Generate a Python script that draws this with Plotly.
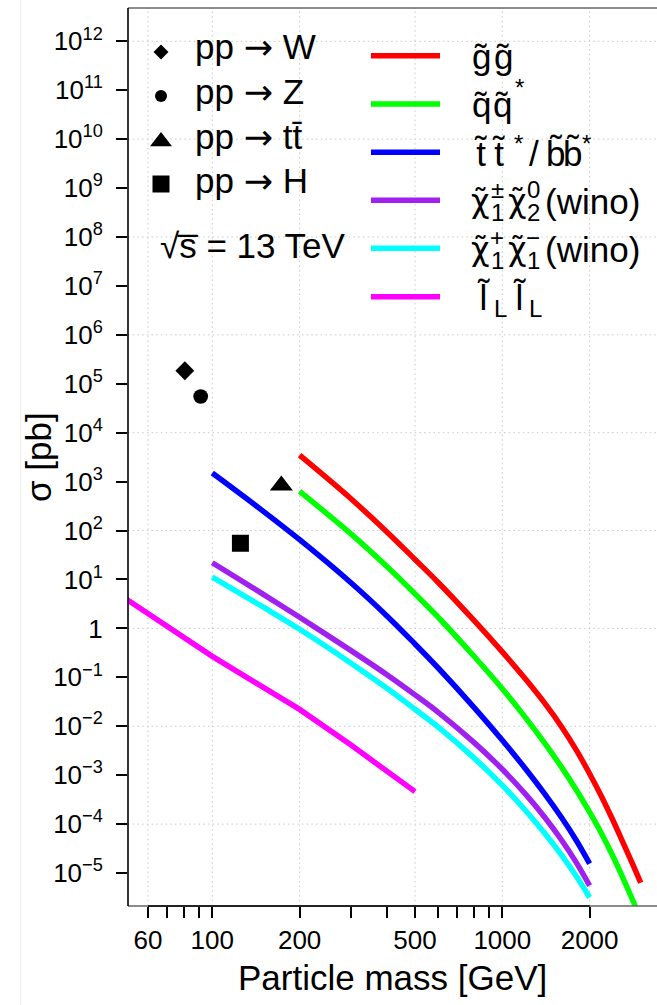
import plotly.graph_objects as go

FONT = "Liberation Sans, Arial, Helvetica, sans-serif"
GREEK = "DejaVu Sans, Liberation Sans, sans-serif"

# ---------------- data ----------------
# Standard Model benchmark processes at sqrt(s) = 13 TeV
ARROW = "<span style='font-family:DejaVu Sans'>\u2192</span>"
sm_labels = ["pp " + ARROW + " W", "pp " + ARROW + " Z",
             "pp " + ARROW + " tt\u0304", "pp " + ARROW + " H"]
sm_mass = [80.4, 91.2, 173.0, 125.0]          # GeV
sm_xsec = [1.85e5, 5.5e4, 830.0, 55.0]        # pb

# strongly produced sparticles
mass_strong = [200, 300, 400, 500, 600, 800, 1000, 1200, 1400, 1600,
               1800, 2000, 2200, 2400, 2600, 2800, 3000]
xsec_gluino = [3467, 452, 93.8, 25.7, 8.79, 1.44, 0.331, 0.0933, 0.0296,
               0.00980, 0.00325, 0.00107, 3.63e-4, 1.24e-4, 4.35e-5,
               1.63e-5, 6.34e-6]
xsec_squark = [631, 86.7, 18.4, 5.08, 1.71, 0.266, 0.0582, 0.0152, 0.00451,
               0.00146, 4.99e-4, 1.75e-4, 6.35e-5, 2.28e-5, 8.17e-6,
               3.01e-6, 1.12e-6]

# stop / sbottom and wino-like electroweakinos
mass_light = [100, 150, 200, 300, 400, 500, 600, 800, 1000, 1200, 1400,
              1600, 1800, 2000]
xsec_stop = [1496, 247, 65.0, 8.67, 1.80, 0.480, 0.157, 0.0241, 0.00519,
             0.00137, 4.15e-4, 1.36e-4, 4.62e-5, 1.56e-5]
xsec_c1n2 = [22.0, 4.95, 1.69, 0.355, 0.113, 0.0438, 0.0195, 0.00463,
             0.00132, 4.14e-4, 1.38e-4, 4.73e-5, 1.63e-5, 5.53e-6]
xsec_c1c1 = [11.2, 2.71, 0.959, 0.197, 0.0597, 0.0222, 0.00970, 0.00223,
             6.18e-4, 1.92e-4, 6.49e-5, 2.32e-5, 8.57e-6, 3.16e-6]

# left-handed slepton pair
mass_slep = [50, 100, 150, 200, 300, 400, 500]
xsec_slep = [4.14, 0.268, 0.0622, 0.0221, 0.00417, 0.0012, 4.61e-4]

# axis ticks
x_tick_major = [60, 100, 200, 500, 1000, 2000]
x_tick_minor = [70, 80, 90, 300, 400, 600, 700, 800, 900]
y_tick_exp = list(range(-5, 13))
y_grid_exp = list(range(-4, 13, 2))

# ---------------- geometry ----------------
FIG_W, FIG_H = 657, 1005
M_L, M_R, M_T, M_B = 128, 0, 8, 99
PW = FIG_W - M_L - M_R
PH = FIG_H - M_T - M_B
X_RANGE = [1.7093, 3.5334]
Y_RANGE = [-5.674, 12.681]


def paper(xp, yp):
    """pixel position on the page -> paper coordinates"""
    return (xp - M_L) / PW, 1 - (yp - M_T) / PH


MAIN = 35
SCRIPT = 24
LW = 5.5

fig = go.Figure()

# ---------------- curves ----------------
curve_style = [
    (mass_strong, xsec_gluino, "#ff0000", "spline"),
    (mass_strong, xsec_squark, "#00ff00", "spline"),
    (mass_light, xsec_stop, "#0000ff", "spline"),
    (mass_light, xsec_c1n2, "#a020f0", "spline"),
    (mass_light, xsec_c1c1, "#00ffff", "spline"),
    (mass_slep, xsec_slep, "#ff00ff", "linear"),
]
for m, s, col, shp in curve_style:
    line = dict(color=col, width=LW, shape=shp)
    if shp == "spline":
        line["smoothing"] = 1.0
    fig.add_trace(go.Scatter(x=m, y=s, mode="lines", line=line,
                             hoverinfo="skip"))

# ---------------- SM points ----------------
sm_symbol = ["diamond", "circle", "triangle-up", "square"]
sm_size = [14.5, 14.7, 20, 17]
sm_legend_size = [11.5, 12, 19, 17]
for i in range(len(sm_mass)):
    fig.add_trace(go.Scatter(x=[sm_mass[i]], y=[sm_xsec[i]], mode="markers",
                             marker=dict(symbol=sm_symbol[i], size=sm_size[i],
                                         color="black", line=dict(width=0)),
                             hoverinfo="skip"))

# ---------------- legend (left column: markers) ----------------
left_rows_y = [52, 96, 141.5, 184]
left_text_y = [47.5, 92, 136.5, 181]
marker_x = 161
for i in range(len(sm_labels)):
    mx, my = paper(marker_x, left_rows_y[i])
    fig.add_trace(go.Scatter(x=[mx], y=[my], xaxis="x2", yaxis="y2",
                             mode="markers", cliponaxis=False,
                             marker=dict(symbol=sm_symbol[i],
                                         size=sm_legend_size[i], color="black"),
                             hoverinfo="skip"))

annotations = []


def put(text, xp, yp, size=MAIN, xanchor="left", angle=0, family=FONT):
    px_, py_ = paper(xp, yp)
    annotations.append(dict(text=text, x=px_, y=py_, xref="paper", yref="paper",
                            xanchor=xanchor, yanchor="middle", showarrow=False,
                            textangle=angle,
                            font=dict(family=family, size=size, color="black")))


for i, lab in enumerate(sm_labels):
    put(lab, 193, left_text_y[i])
put("\u221as\u0305 = 13 TeV", 158, 246)

# ---------------- legend (right column: lines) ----------------
line_rows_y = [55.7, 104, 152.3, 200.3, 248.3, 296.7]
line_colors = ["#ff0000", "#00ff00", "#0000ff", "#a020f0", "#00ffff", "#ff00ff"]
shapes = []
for yrow, col in zip(line_rows_y, line_colors):
    x0, y0 = paper(371, yrow)
    x1, _ = paper(440, yrow)
    shapes.append(dict(type="line", xref="paper", yref="paper", x0=x0, x1=x1,
                       y0=y0, y1=y0, line=dict(color=col, width=LW)))

T = "\u0303"  # combining tilde
CHI = "\u03c7" + T
# (text, x, anchor, role, extra vertical offset)
label_pieces = [
    [("g" + T, 481, "center", "main", 0), ("g" + T, 503, "center", "main", 0)],
    [("q" + T, 481, "center", "main", 0), ("q" + T, 502.5, "center", "main", 0),
     ("*", 519, "center", "sup", -5)],
    [("t" + T, 480, "center", "main", 0), ("t" + T, 498, "center", "main", 0),
     ("*", 518.5, "center", "sup", 2), ("/", 533.5, "center", "main", 0),
     ("b" + T, 555, "center", "main", 0), ("b" + T, 572.5, "center", "main", 0),
     ("*", 586, "center", "sup", 2)],
    [(CHI, 480, "center", "greek", 0), ("\u00b1", 497, "center", "sup", 0),
     ("1", 497, "center", "sub", 0), (CHI, 516.5, "center", "greek", 0),
     ("0", 533, "center", "sup", 0), ("2", 533, "center", "sub", 0),
     ("(wino)", 543, "left", "main", 0)],
    [(CHI, 480, "center", "greek", 0), ("+", 497, "center", "sup", 0),
     ("1", 497, "center", "sub", 0), (CHI, 516.5, "center", "greek", 0),
     ("\u2212", 533, "center", "sup", 0), ("1", 533, "center", "sub", 0),
     ("(wino)", 543, "left", "main", 0)],
    [("l" + T, 483, "center", "main", 0), ("L", 500, "center", "sub", 0),
     ("l" + T, 519, "center", "main", 0), ("L", 535, "center", "sub", 0)],
]
role_dy = {"main": 1, "greek": 1, "sup": -11, "sub": 12}
role_size = {"main": MAIN, "greek": 32, "sup": SCRIPT, "sub": SCRIPT}
for yrow, pieces in zip(line_rows_y, label_pieces):
    for txt, xp, anc, role, extra in pieces:
        put(txt, xp, yrow + role_dy[role] + extra, size=role_size[role],
            xanchor=anc, family=GREEK if role == "greek" else FONT)

# ---------------- axis titles ----------------
put("Particle mass [GeV]", 392.5, 978, size=MAIN, xanchor="center")
put("\u03c3 [pb]", 38.5, 457.5, size=MAIN, xanchor="center", angle=-90)

# ---------------- grid and frame ----------------
GRID = dict(color="#c8c8c8", width=1, dash="1.5px,3.2px")
for v in x_tick_major:
    shapes.append(dict(type="line", xref="x", yref="paper", x0=v, x1=v,
                       y0=0, y1=1, line=GRID, layer="below"))
for e in y_grid_exp:
    shapes.append(dict(type="line", xref="paper", yref="y", x0=0, x1=1,
                       y0=10.0 ** e, y1=10.0 ** e, line=GRID, layer="below"))

FRAME = dict(color="#666666", width=1.6)
shapes.append(dict(type="line", xref="paper", yref="paper", x0=0, x1=1,
                   y0=1, y1=1, line=FRAME))
shapes.append(dict(type="line", xref="paper", yref="paper", x0=0, x1=1,
                   y0=0, y1=0, line=FRAME))
shapes.append(dict(type="line", xref="x", yref="paper",
                   x0=x_tick_major[0], x1=x_tick_major[-1],
                   y0=0, y1=0, line=dict(color="black", width=1.6)))
shapes.append(dict(type="line", xref="paper", yref="paper", x0=0, x1=0,
                   y0=0, y1=1, line=dict(color="black", width=1.6)))
# thin page rule at the far left
fx, _ = paper(20.7, 0)
shapes.append(dict(type="line", xref="paper", yref="paper", x0=fx, x1=fx,
                   y0=-0.2, y1=1.1, line=dict(color="#eeeeee", width=1)))

y_ticktext = []
for e in y_tick_exp:
    if e == 0:
        y_ticktext.append("1")
    else:
        y_ticktext.append("10<sup>" + str(e).replace("-", "\u2212") + "</sup>")

TICKS = dict(ticks="outside", ticklen=11, tickwidth=1.5, tickcolor="black")

fig.update_layout(
    width=FIG_W, height=FIG_H,
    margin=dict(l=M_L, r=M_R, t=M_T, b=M_B, pad=0),
    paper_bgcolor="white", plot_bgcolor="white",
    showlegend=False,
    font=dict(family=FONT, color="black"),
    xaxis=dict(type="log", range=X_RANGE, tickmode="array",
               tickvals=x_tick_major, ticktext=[str(v) for v in x_tick_major],
               tickfont=dict(size=26, family=FONT, color="black"),
               showgrid=False, showline=False, zeroline=False,
               ticklabelstandoff=0,
               minor=dict(tickvals=x_tick_minor, showgrid=False, **TICKS),
               **TICKS),
    yaxis=dict(type="log", range=Y_RANGE, tickmode="array",
               tickvals=[10.0 ** e for e in y_tick_exp], ticktext=y_ticktext,
               tickfont=dict(size=26, family=FONT, color="black"),
               showgrid=False, showline=False, zeroline=False,
               ticklabelstandoff=8, **TICKS),
    xaxis2=dict(overlaying="x", range=[0, 1], visible=False),
    yaxis2=dict(overlaying="y", range=[0, 1], visible=False),
    shapes=shapes,
    annotations=annotations,
)

fig.write_html("out.html")
